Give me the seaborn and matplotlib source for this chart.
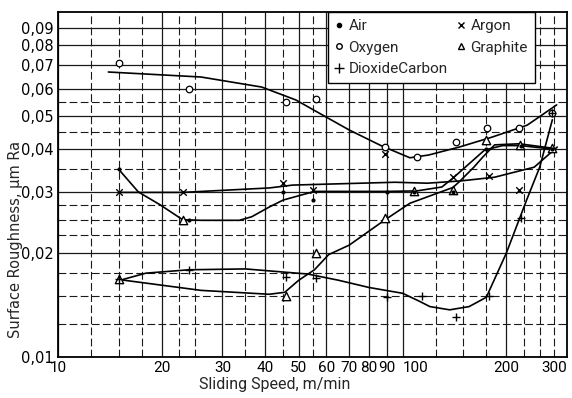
import matplotlib
matplotlib.use("Agg")
import matplotlib.pyplot as plt
import seaborn as sns
from matplotlib import font_manager
from matplotlib.lines import Line2D
from matplotlib.ticker import FixedLocator, FixedFormatter, NullFormatter

sns.set_style("white")
plt.rcParams['font.family'] = ['DejaVu Sans']
_names = {f.name for f in font_manager.fontManager.ttflist}
NARROW = 'Liberation Sans Narrow' if 'Liberation Sans Narrow' in _names else 'Roboto'

# ---- measured points ----
air_speed = [15, 24, 45, 55, 90, 108, 140, 175, 220, 272]
air_rough = [0.035, 0.025, 0.030, 0.0285, 0.030, 0.030, 0.030, 0.040, 0.041, 0.040]

oxygen_speed = [15, 24, 46, 56, 89, 110, 143, 176, 218, 272]
oxygen_rough = [0.071, 0.060, 0.055, 0.056, 0.0405, 0.038, 0.042, 0.046, 0.046, 0.051]

co2_speed = [15, 24, 46, 56, 90, 114, 143, 178, 220, 272]
co2_rough = [0.0168, 0.0179, 0.0171, 0.0169, 0.0149, 0.015, 0.0131, 0.015, 0.0253, 0.051]

argon_speed = [15, 23, 45, 55, 89, 140, 178, 218]
argon_rough = [0.030, 0.030, 0.032, 0.0304, 0.0388, 0.0333, 0.0335, 0.0305]

graphite_speed = [15, 23, 46, 56, 89, 108, 140, 175, 219, 272]
graphite_rough = [0.0168, 0.025, 0.015, 0.020, 0.0253, 0.0303, 0.0305, 0.0426, 0.0411, 0.0403]

# ---- fitted curves ----
oxygen_curve_speed = [14, 26, 39, 49, 60, 70, 87, 105, 119, 146, 182, 230, 280]
oxygen_curve_rough = [0.067, 0.0648, 0.0606, 0.0556, 0.0496, 0.0455, 0.0409, 0.0378, 0.0385, 0.0406, 0.0434, 0.047, 0.0538]

air_curve_speed = [15, 17.1, 19.8, 23, 26, 33.6, 36.5, 41, 45, 55.5, 70, 90, 110, 130, 140, 152, 173, 195, 220, 275]
air_curve_rough = [0.035, 0.0301, 0.0276, 0.025, 0.0249, 0.0249, 0.0255, 0.0272, 0.0285, 0.0302, 0.0302, 0.0302, 0.0303, 0.0311, 0.033, 0.0355, 0.0398, 0.041, 0.041, 0.040]

argon_curve_speed = [15, 23, 41, 48, 95, 118, 148, 185, 241, 281]
argon_curve_rough = [0.030, 0.030, 0.0309, 0.0315, 0.0321, 0.0319, 0.0324, 0.0332, 0.0355, 0.0406]

graphite_curve_speed = [15.5, 26, 41, 45.5, 50, 55.5, 61, 70, 88.5, 105, 140, 146, 161, 171, 185, 218, 272]
graphite_curve_rough = [0.0167, 0.0156, 0.0152, 0.0154, 0.0167, 0.0179, 0.0198, 0.0211, 0.0249, 0.0279, 0.031, 0.0322, 0.0355, 0.038, 0.0412, 0.0415, 0.0403]

co2_curve_speed = [15.5, 18, 24, 35, 46, 53, 65, 80, 100, 112, 120, 137, 156, 175, 200, 229, 250, 272]
co2_curve_rough = [0.0168, 0.0175, 0.0179, 0.018, 0.0176, 0.0174, 0.0167, 0.0159, 0.0153, 0.0145, 0.014, 0.0137, 0.014, 0.0149, 0.020, 0.0285, 0.0355, 0.0487]

# ---- ticks / grid ----
x_ticks = [10, 20, 30, 40, 50, 60, 70, 80, 90, 100, 200, 300]
x_tick_labels = ["10", "20", "30", "40", "50", "60", "70", "80", "90", "100", "200", "300"]
x_minor = [12.5, 15, 17.5, 22.5, 25, 35, 45, 55, 125, 150, 175, 225, 250, 275]
y_ticks = [0.01, 0.02, 0.03, 0.04, 0.05, 0.06, 0.07, 0.08, 0.09]
y_tick_labels = ["0,01", "0,02", "0,03", "0,04", "0,05", "0,06", "0,07", "0,08", "0,09"]
y_minor = [0.0125, 0.015, 0.0175, 0.0225, 0.025, 0.0275, 0.035, 0.045, 0.055]

fig = plt.figure(figsize=(5.72, 3.98), dpi=100)
ax = fig.add_axes([58/572, 1 - 357/398, 509/572, 345/398])
ax.set_xscale('log')
ax.set_yscale('log')
ax.set_xlim(10, 300)
ax.set_ylim(0.01, 0.1)

ax.xaxis.set_major_locator(FixedLocator(x_ticks))
ax.xaxis.set_major_formatter(FixedFormatter(x_tick_labels))
ax.xaxis.set_minor_locator(FixedLocator(x_minor))
ax.xaxis.set_minor_formatter(NullFormatter())
ax.yaxis.set_major_locator(FixedLocator(y_ticks))
ax.yaxis.set_major_formatter(FixedFormatter(y_tick_labels))
ax.yaxis.set_minor_locator(FixedLocator(y_minor))
ax.yaxis.set_minor_formatter(NullFormatter())

ax.grid(which='major', color='#1a1a1a', lw=0.9, ls='-')
ax.grid(which='minor', color='#1a1a1a', lw=0.8, ls=(0, (7, 3)))
ax.tick_params(which='both', length=0, labelsize=10.5, colors='black', pad=3)
for lbl in ax.get_xticklabels():
    lbl.set_fontfamily(NARROW)
    lbl.set_fontsize(11)
    if lbl.get_text() == "300":
        lbl.set_horizontalalignment('right')
    if lbl.get_text() == "100":
        lbl.set_horizontalalignment('left')
for s in ax.spines.values():
    s.set_color('black')
    s.set_linewidth(1.3)

curves = [(oxygen_curve_speed, oxygen_curve_rough), (air_curve_speed, air_curve_rough),
          (argon_curve_speed, argon_curve_rough), (graphite_curve_speed, graphite_curve_rough),
          (co2_curve_speed, co2_curve_rough)]
for cx, cy in curves:
    sns.lineplot(x=cx, y=cy, ax=ax, color='black', lw=1.2, sort=False, estimator=None, zorder=3)

sns.scatterplot(x=oxygen_speed, y=oxygen_rough, ax=ax, marker='o', s=22, facecolor='white',
                edgecolor='black', linewidth=0.9, zorder=4)
sns.scatterplot(x=graphite_speed, y=graphite_rough, ax=ax, marker='^', s=36, facecolor='white',
                edgecolor='black', linewidth=1.0, zorder=4)
sns.scatterplot(x=argon_speed, y=argon_rough, ax=ax, marker='x', s=22, color='black',
                linewidth=1.0, zorder=5)
sns.scatterplot(x=co2_speed, y=co2_rough, ax=ax, marker='+', s=40, color='black',
                linewidth=1.0, zorder=5)
sns.scatterplot(x=air_speed, y=air_rough, ax=ax, marker='o', s=9, color='black',
                linewidth=0, zorder=6)

handles = [
    Line2D([], [], ls='none', marker='o', ms=3, color='black', label='Air'),
    Line2D([], [], ls='none', marker='o', ms=4, mfc='white', mec='black', label='Oxygen'),
    Line2D([], [], ls='none', marker='+', ms=7, color='black', label='DioxideCarbon'),
    Line2D([], [], ls='none', marker='x', ms=4.5, color='black', label='Argon'),
    Line2D([], [], ls='none', marker='^', ms=5, mfc='white', mec='black', label='Graphite'),
]
leg = ax.legend(handles=handles, ncol=2, loc='upper left', bbox_to_anchor=(0.53, 1.0),
                frameon=True, fancybox=False, framealpha=1, edgecolor='black',
                prop={'family': NARROW, 'size': 11}, handlelength=0.6, handletextpad=0.3,
                columnspacing=0.6, labelspacing=0.5, borderpad=0.45, borderaxespad=0)
leg.get_frame().set_linewidth(1.0)
leg.set_zorder(10)

ax.set_xlabel("Sliding Speed, m/min", fontsize=11.5, fontfamily=NARROW, va='center')
ax.set_ylabel("Surface Roughness, μm Ra", fontsize=10.5, va='center')
ax.xaxis.set_label_coords(0.426, -0.081)
ax.yaxis.set_label_coords(-0.084, 0.34)

fig.savefig("out.png", dpi=100)
